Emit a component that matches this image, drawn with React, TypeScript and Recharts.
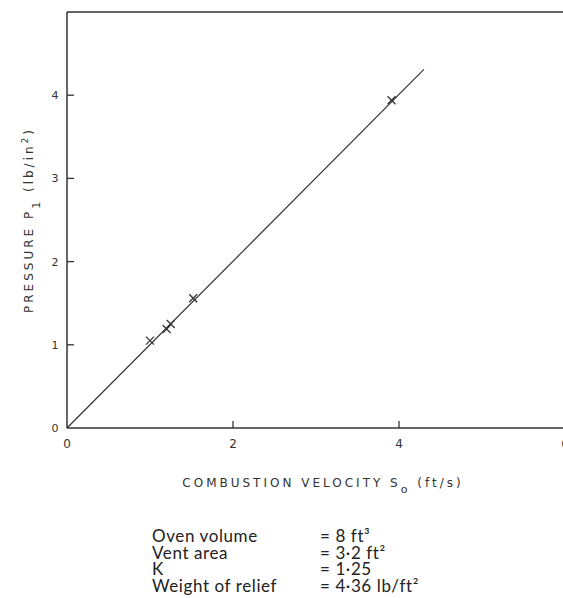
import { ComposedChart, Customized, ReferenceLine, Scatter, XAxis, YAxis } from "recharts"

const velocity = [1.0, 1.2, 1.25, 1.52, 3.91]
const pressure = [1.05, 1.19, 1.25, 1.56, 3.94]
const fitVelocity = [0, 4.3]
const fitPressure = [0, 4.31]
const xTicks = [0, 2, 4, 6]
const yTicks = [0, 1, 2, 3, 4]

const notes = [
  { name: "Oven volume", value: "= 8 ft³" },
  { name: "Vent area", value: "= 3·2 ft²" },
  { name: "K", value: "= 1·25" },
  { name: "Weight of relief", value: "= 4·36 lb/ft²" },
]

const points = velocity.map((v, i) => ({ v, p: pressure[i] }))
const fitLine = fitVelocity.map((v, i) => ({ v, p: fitPressure[i] }))

const ink = "#333"
const font = "'DejaVu Sans', sans-serif"

const Cross = (props: any) => {
  const { cx, cy } = props
  const s = 4
  return (
    <g stroke={ink} strokeWidth={1.3}>
      <line x1={cx - s} y1={cy - s} x2={cx + s} y2={cy + s} />
      <line x1={cx - s} y1={cy + s} x2={cx + s} y2={cy - s} />
    </g>
  )
}

const XTick = (props: any) => {
  const { x, y, payload } = props
  return (
    <g>
      {payload.value !== 0 && <line x1={x} y1={y} x2={x} y2={y - 7} stroke={ink} strokeWidth={1.3} />}
      <text x={x} y={y + 20} textAnchor="middle" fontSize={12} fill={ink} fontFamily={font}>
        {payload.value}
      </text>
    </g>
  )
}

const YTick = (props: any) => {
  const { x, y, payload } = props
  return (
    <g>
      {payload.value !== 0 && <line x1={x} y1={y} x2={x + 7} y2={y} stroke={ink} strokeWidth={1.3} />}
      <text x={x - 12} y={y + 4} textAnchor="middle" fontSize={11} fill={ink} fontFamily={font}>
        {payload.value}
      </text>
    </g>
  )
}

const AxisTitles = () => (
  <g fill={ink} fontFamily={font} fontSize={12} letterSpacing={3}>
    <text x={323} y={487} textAnchor="middle">
      COMBUSTION VELOCITY S
      <tspan dy={6} fontSize={11}>o</tspan>
      <tspan dy={-6}>  (ft/s)</tspan>
    </text>
    <text x={0} y={0} textAnchor="middle" transform="translate(33 220) rotate(-90)">
      PRESSURE  P
      <tspan dy={7} fontSize={11}>1</tspan>
      <tspan dy={-7}>  (lb/in</tspan>
      <tspan dy={-5} fontSize={9}>2</tspan>
      <tspan dy={5}>)</tspan>
    </text>
  </g>
)

export default function App() {
  return (
    <div
      style={{
        position: "absolute",
        left: 0,
        top: 0,
        width: 563,
        height: 598,
        overflow: "hidden",
        background: "#fff",
      }}
    >
      <ComposedChart width={620} height={598} margin={{ top: 12, right: 55, left: 27, bottom: 140 }}>
        <XAxis
          type="number"
          dataKey="v"
          domain={[0, 6]}
          ticks={xTicks}
          interval={0}
          height={30}
          tickSize={0}
          tickMargin={0}
          tickLine={false}
          tick={<XTick />}
          axisLine={{ stroke: ink, strokeWidth: 1.5 }}
        />
        <YAxis
          type="number"
          dataKey="p"
          domain={[0, 5]}
          ticks={yTicks}
          interval={0}
          width={40}
          tickSize={0}
          tickMargin={0}
          tickLine={false}
          tick={<YTick />}
          axisLine={{ stroke: ink, strokeWidth: 1.5 }}
        />
        <ReferenceLine y={5} stroke={ink} strokeWidth={1.3} />
        <Scatter
          data={fitLine}
          line={{ stroke: ink, strokeWidth: 1.2 }}
          shape={() => <g />}
          isAnimationActive={false}
        />
        <Scatter data={points} shape={<Cross />} isAnimationActive={false} />
        <Customized component={AxisTitles} />
      </ComposedChart>
      <div
        style={{
          position: "absolute",
          left: 152,
          top: 528,
          fontFamily: "Lato, sans-serif",
          fontSize: 17,
          lineHeight: "16.7px",
          letterSpacing: 0.6,
          color: "#222",
        }}
      >
        {notes.map((n) => (
          <div key={n.name} style={{ display: "flex" }}>
            <span style={{ width: 168 }}>{n.name}</span>
            <span>{n.value}</span>
          </div>
        ))}
      </div>
    </div>
  )
}
